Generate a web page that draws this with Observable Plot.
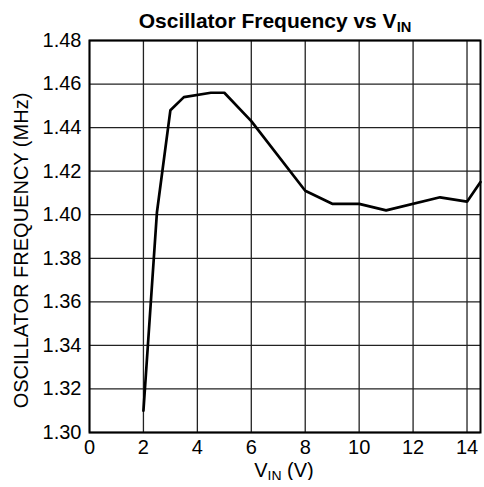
<!DOCTYPE html>
<html>
<head>
<meta charset="utf-8">
<script src="https://cdn.jsdelivr.net/npm/d3@7"></script>
<script src="https://cdn.jsdelivr.net/npm/@observablehq/plot@0.6"></script>
<style>
  body { margin: 0; background: #fff; font-family: "Liberation Sans", Arial, sans-serif; }
  #wrap { width: 484px; }
  .title { height: 24px; line-height: 21px; padding-top: 10px; font-weight: bold; font-size: 21px; text-align: center; padding-left: 66px; box-sizing: border-box; width: 484px; white-space: nowrap; overflow: visible; position: relative; z-index: 1; }
  .title sub, .xlabel sub { font-size: 0.7em; vertical-align: -0.25em; line-height: 0; }
  .xlabel { font-size: 20px; line-height: 20px; text-align: center; padding-left: 84px; box-sizing: border-box; width: 484px; margin-top: -2px; }
  svg { display: block; overflow: visible; }
</style>
</head>
<body>
<div id="wrap">
  <div class="title">Oscillator Frequency vs V<sub>IN</sub></div>
  <div id="chart"></div>
  <div class="xlabel">V<sub>IN</sub> (V)</div>
</div>
<script>
const vin  = [2, 2.5, 3, 3.5, 4.5, 5, 6, 8, 9, 10, 11, 13, 14, 14.5];
const freq = [1.310, 1.401, 1.448, 1.454, 1.456, 1.456, 1.443, 1.411, 1.405, 1.405, 1.402, 1.408, 1.406, 1.415];
const xTicks = [0, 2, 4, 6, 8, 10, 12, 14];
const yTicks = [1.30, 1.32, 1.34, 1.36, 1.38, 1.40, 1.42, 1.44, 1.46, 1.48];

const data = vin.map((v, i) => ({v, f: freq[i]}));

const chart = Plot.plot({
  width: 484,
  height: 438,
  marginLeft: 89,
  marginRight: 4,
  marginTop: 16,
  marginBottom: 30,
  style: { fontFamily: "Liberation Sans, Arial, sans-serif", fontSize: "20px", background: "transparent", color: "#000" },
  x: { domain: [0, 14.5] },
  y: { domain: [1.30, 1.48] },
  marks: [
    Plot.ruleX(xTicks, { stroke: "#222", strokeWidth: 1.3 }),
    Plot.ruleY(yTicks, { stroke: "#222", strokeWidth: 1.3 }),
    Plot.frame({ stroke: "#000", strokeWidth: 2 }),
    Plot.line(data, { x: "v", y: "f", stroke: "#000", strokeWidth: 2.7, strokeLinejoin: "miter" }),
    Plot.axisX(xTicks, { tickSize: 0, tickPadding: 7, label: null, fontSize: 20 }),
    Plot.axisY(yTicks, { tickSize: 0, tickPadding: 8, tickFormat: d3.format(".2f"), fontSize: 20,
      label: "OSCILLATOR FREQUENCY (MHz)", labelAnchor: "center", labelArrow: "none", labelOffset: 76 })
  ]
});
// shift the y-axis title slightly down to match the reference placement
d3.select(chart).selectAll('g[aria-label="y-axis label"]').attr("transform", function() {
  const t = d3.select(this).attr("transform") || "";
  return t + " translate(0,14)";
});
document.getElementById("chart").appendChild(chart);
</script>
</body>
</html>
